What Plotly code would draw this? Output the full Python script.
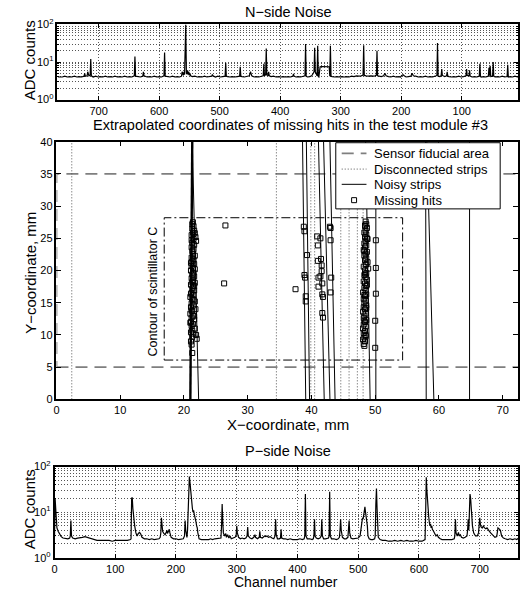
import plotly.graph_objects as go

# ---------------- N-side noise (channel, ADC counts) ----------------
N_CH = [0, 4, 8, 12, 16, 20, 23, 24, 25, 29, 33, 37, 41, 45, 47, 48, 49, 52, 53, 54, 55, 56, 60, 64, 68, 69, 70, 71,
        75, 79, 83, 86, 87, 88, 91, 92, 93, 97, 101, 105, 109, 113, 117, 121, 123, 124, 125, 128, 132, 133, 134,
        136, 139, 140, 141, 144, 148, 152, 156, 160, 164, 168, 172, 176, 180, 182, 184, 188, 192, 195, 197, 199,
        201, 205, 209, 213, 217, 221, 225, 227, 229, 233, 237, 239, 240, 241, 243, 246, 250, 254, 258, 261, 262,
        263, 266, 270, 274, 278, 282, 286, 290, 294, 298, 302, 306, 310, 314, 316, 317, 318, 319, 323, 327, 331,
        334, 335, 336, 337, 338, 339, 340, 342, 343, 344, 346, 348, 351, 355, 357, 358, 359, 362, 366, 370, 374,
        377, 378, 379, 383, 387, 391, 395, 399, 403, 407, 411, 415, 418, 419, 420, 422, 423, 424, 426, 427, 428,
        431, 435, 439, 443, 447, 449, 451, 455, 459, 463, 465, 466, 467, 471, 475, 479, 483, 487, 489, 490, 491,
        495, 499, 503, 507, 511, 512, 513, 517, 521, 525, 529, 533, 537, 541, 545, 548, 549, 550, 551, 552, 553,
        554, 555, 556, 557, 558, 559, 560, 562, 563, 566, 570, 574, 578, 582, 586, 590, 591, 592, 596, 600, 604,
        608, 612, 616, 620, 624, 625, 626, 627, 631, 635, 639, 640, 641, 645, 649, 653, 657, 661, 665, 669, 673,
        677, 681, 685, 689, 693, 697, 701, 705, 709, 712, 713, 714, 716, 718, 719, 722, 723, 724, 728, 732, 736,
        740, 744, 748, 752, 756, 760, 764, 767]
N_ADC = [4.4, 4.2, 4.0, 4.2, 4.0, 4.1, 4.0, 8.5, 4.1, 4.0, 4.2, 4.0, 4.1, 4.0, 4.2, 10.0, 4.2, 4.1, 8.0, 4.3, 7.0,
         4.2, 4.0, 4.1, 4.0, 4.2, 9.0, 4.2, 4.0, 4.1, 4.0, 4.2, 6.0, 4.3, 4.4, 6.5, 4.3, 4.1, 4.0, 4.2, 4.0, 4.1,
         4.0, 4.1, 4.2, 5.5, 4.3, 4.1, 4.4, 6.5, 4.3, 4.1, 4.2, 32.0, 4.4, 4.2, 4.0, 4.1, 4.0, 4.2, 4.0, 4.1, 4.0,
         4.2, 4.3, 5.0, 4.2, 4.1, 4.0, 4.3, 4.6, 4.4, 4.0, 4.1, 4.0, 4.2, 4.0, 4.1, 4.3, 5.0, 4.3, 4.1, 4.2, 4.3,
         20.0, 4.5, 4.3, 4.2, 4.3, 4.2, 4.3, 4.4, 28.0, 4.5, 4.3, 4.2, 4.3, 4.1, 4.2, 4.0, 4.1, 4.0, 4.1, 4.0, 4.1,
         4.0, 4.1, 4.2, 27.0, 4.2, 7.5, 7.6, 7.4, 7.6, 7.5, 4.3, 4.0, 4.1, 27.0, 4.3, 4.6, 5.5, 24.0, 5.5, 4.8, 4.3,
         4.1, 4.0, 4.2, 30.0, 4.3, 4.1, 4.0, 4.1, 4.0, 4.2, 4.8, 4.2, 4.0, 4.1, 4.0, 4.1, 4.0, 4.1, 4.0, 4.2, 4.1,
         4.3, 5.5, 4.4, 4.5, 23.0, 4.6, 4.3, 9.0, 4.3, 4.1, 4.0, 4.1, 4.0, 4.3, 5.5, 4.3, 4.1, 4.0, 4.1, 4.2, 7.5,
         4.2, 4.1, 4.0, 4.1, 4.0, 4.1, 4.2, 9.5, 4.2, 4.1, 4.0, 4.2, 4.0, 4.3, 4.7, 4.2, 4.1, 4.0, 4.2, 4.0, 4.1,
         4.0, 4.2, 4.1, 4.3, 5.0, 4.4, 5.5, 4.6, 6.0, 4.8, 5.0, 100.0, 5.0, 4.6, 5.5, 4.4, 5.5, 4.2, 4.0, 4.1, 4.0,
         4.2, 4.0, 4.1, 4.2, 18.0, 4.3, 4.0, 4.1, 4.0, 4.2, 4.0, 4.1, 4.0, 4.2, 4.3, 5.5, 4.2, 4.0, 4.1, 4.2, 14.0,
         4.3, 4.0, 4.1, 4.0, 4.2, 4.0, 4.1, 4.0, 4.2, 4.0, 4.1, 4.0, 4.2, 4.0, 4.1, 4.0, 4.2, 4.0, 4.3, 12.0, 4.5,
         4.3, 5.5, 4.3, 4.2, 5.0, 4.2, 4.0, 4.1, 4.0, 4.2, 4.0, 4.1, 4.0, 4.2, 4.0, 4.1, 4.0]

# ---------------- P-side noise (channel, ADC counts) ----------------
P_CH = [0, 1, 2, 3, 4, 6, 8, 11, 14, 18, 22, 25, 26, 27, 28, 30, 34, 38, 42, 46, 50, 54, 58, 62, 66, 70, 75, 80,
        85, 90, 95, 100, 105, 110, 115, 120, 125, 126, 127, 128, 129, 130, 132, 134, 136, 138, 140, 142, 144,
        148, 152, 156, 160, 164, 168, 172, 174, 175, 176, 177, 178, 180, 182, 184, 185, 186, 188, 189, 190, 192,
        196, 200, 204, 208, 212, 214, 215, 216, 217, 218, 219, 220, 221, 222, 223, 224, 225, 226, 227, 228, 229,
        230, 231, 232, 233, 234, 235, 236, 237, 238, 242, 246, 250, 254, 257, 260, 264, 268, 272, 274, 275, 276,
        277, 278, 280, 282, 283, 285, 287, 289, 291, 294, 297, 299, 300, 301, 303, 306, 309, 312, 315, 317, 318,
        319, 322, 325, 328, 330, 331, 334, 337, 338, 339, 342, 344, 346, 348, 350, 352, 355, 358, 361, 363, 364,
        365, 367, 370, 372, 373, 374, 377, 380, 384, 388, 392, 396, 400, 404, 408, 411, 412, 413, 414, 416, 420,
        424, 426, 427, 428, 429, 431, 434, 437, 439, 440, 441, 443, 446, 449, 451, 452, 453, 454, 456, 460, 464,
        467, 469, 470, 471, 472, 474, 477, 480, 483, 484, 485, 486, 488, 491, 494, 497, 500, 503, 505, 506, 507,
        508, 509, 510, 511, 512, 513, 514, 515, 516, 518, 521, 524, 527, 528, 529, 530, 531, 532, 533, 536, 540,
        545, 550, 555, 560, 565, 570, 575, 580, 585, 590, 595, 600, 605, 608, 610, 611, 612, 613, 614, 615, 616,
        617, 618, 619, 620, 621, 622, 624, 626, 628, 630, 632, 635, 638, 642, 646, 650, 654, 658, 659, 660, 661,
        663, 665, 666, 668, 670, 673, 676, 679, 680, 681, 682, 683, 684, 685, 686, 687, 688, 690, 693, 696, 698,
        699, 700, 701, 702, 704, 706, 708, 710, 712, 714, 716, 718, 720, 722, 725, 728, 729, 730, 732, 734, 736,
        739, 742, 746, 750, 754, 758, 761, 764, 767]
P_ADC = [2.8, 20.0, 12.0, 6.0, 4.5, 3.8, 3.3, 2.9, 2.7, 2.6, 2.6, 2.7, 3.0, 6.5, 3.0, 2.7, 2.6, 2.7, 2.7, 2.8, 2.9,
         2.8, 2.7, 2.6, 2.5, 2.4, 2.4, 2.4, 2.4, 2.4, 2.3, 2.4, 2.4, 2.4, 2.4, 2.4, 2.5, 2.6, 20.0, 21.0, 12.0,
         8.0, 5.0, 3.5, 3.0, 3.4, 3.6, 3.3, 2.8, 2.6, 2.6, 2.5, 2.6, 2.5, 2.6, 2.6, 2.8, 3.5, 7.5, 5.0, 3.8, 3.4,
         3.2, 3.6, 4.0, 3.4, 3.8, 4.2, 3.5, 2.8, 2.6, 2.6, 2.5, 2.6, 2.6, 3.0, 6.5, 4.0, 3.0, 2.8, 4.0, 9.0, 25.0,
         60.0, 45.0, 30.0, 20.0, 14.0, 12.0, 10.0, 11.0, 9.0, 8.0, 7.5, 6.0, 5.0, 4.5, 3.5, 3.0, 2.6, 2.5, 2.5,
         2.5, 2.5, 2.6, 2.5, 2.6, 2.6, 2.6, 2.7, 5.0, 15.0, 6.0, 3.5, 3.0, 3.4, 2.8, 3.2, 2.7, 3.0, 2.6, 2.7, 2.8,
         3.0, 5.0, 3.5, 2.8, 2.6, 2.7, 2.6, 2.7, 3.0, 4.7, 3.0, 2.7, 2.6, 2.8, 3.2, 2.8, 2.6, 2.8, 3.8, 2.8, 2.7,
         2.9, 3.0, 2.9, 3.0, 2.8, 2.9, 2.7, 2.6, 3.0, 7.0, 3.2, 2.6, 2.6, 2.7, 4.2, 2.7, 2.6, 2.6, 2.5, 2.6, 2.5,
         2.5, 2.5, 2.6, 2.5, 2.6, 3.0, 25.0, 3.0, 2.6, 2.6, 2.5, 2.6, 3.0, 7.0, 3.0, 2.7, 2.6, 2.7, 3.0, 7.0, 3.0,
         2.6, 2.6, 2.6, 2.7, 3.0, 28.0, 3.0, 2.6, 2.6, 2.5, 2.6, 2.8, 4.0, 7.0, 4.0, 2.8, 2.6, 2.6, 2.8, 4.5, 6.5,
         3.5, 2.7, 2.6, 2.6, 2.6, 2.7, 3.0, 4.5, 7.0, 7.5, 7.0, 9.0, 12.0, 13.0, 10.0, 8.0, 7.0, 5.0, 3.0, 2.6,
         2.5, 2.5, 2.6, 3.0, 15.0, 33.0, 12.0, 4.0, 2.8, 2.5, 2.4, 2.4, 2.3, 2.3, 2.4, 2.3, 2.4, 2.3, 2.4, 2.3,
         2.3, 2.4, 2.3, 2.3, 2.4, 2.5, 10.0, 58.0, 30.0, 15.0, 12.0, 8.0, 6.0, 5.0, 5.5, 4.5, 5.0, 4.2, 3.8, 3.2,
         3.0, 3.2, 2.8, 2.6, 2.5, 2.5, 2.5, 2.5, 2.5, 2.6, 3.0, 7.0, 3.5, 3.0, 3.6, 3.0, 3.2, 2.8, 2.7, 2.8, 3.0,
         4.0, 7.0, 4.0, 10.0, 25.0, 20.0, 15.0, 8.0, 5.0, 3.5, 3.0, 3.0, 3.5, 5.0, 7.5, 5.5, 4.8, 4.5, 5.0, 4.5,
         4.3, 4.5, 4.0, 3.8, 3.5, 3.3, 3.0, 2.8, 2.9, 3.5, 4.5, 4.3, 4.0, 3.0, 2.7, 2.6, 2.5, 2.6, 2.5, 2.6, 2.5,
         2.7, 3.0]

# ---------------- Module map (mm) ----------------
FIDUCIAL_X = [0.0, 73.0]
FIDUCIAL_Y = [5.0, 35.0]
STRIP_Y = [0.0, 40.0]                     # strips drawn over the full sensor height
DISCONNECTED_X = [2.4, 34.5, 39.9, 40.5, 44.6, 45.9, 47.2, 48.1]
NOISY_X_BOTTOM = [22.3, 39.1, 39.7, 42.0, 42.9, 43.7, 49.2, 50.1, 58.0, 59.2, 64.8]
NOISY_X_TOP = [21.3, 38.6, 39.2, 41.1, 41.9, 42.9, 48.5, 50.1, 57.9, 58.1, 64.8]
HOT_STRIP_X = [21.0, 21.3]                # bottom, top (very noisy, drawn heavy)
SCINT_X = [16.9, 54.3]
SCINT_Y = [6.1, 28.2]

HITS_A_X = [21.4, 21.3, 21.5, 21.3, 21.6, 21.4, 21.2, 21.8, 21.5, 21.9, 21.3, 21.6, 21.2, 21.5, 21.3, 21.4, 21.7,
            21.2, 21.5, 21.3, 21.6, 21.2, 21.4, 21.1, 21.5, 21.3, 21.6, 21.2, 21.4, 21.7, 21.1, 21.4, 21.3, 21.6,
            21.2, 21.5, 21.0, 21.3, 21.7, 21.2, 21.5, 21.1, 21.8, 21.3, 21.0, 21.4, 21.2, 21.6, 21.1, 21.4, 21.2,
            21.7, 21.3, 21.1, 21.9, 21.3, 22.0, 21.2, 21.3, 21.7, 21.2, 21.4, 21.1, 21.7, 21.3, 21.6, 21.1, 21.5,
            21.2, 21.6, 21.0, 21.4, 21.1]
HITS_A_Y = [27.5, 27.2, 26.9, 26.5, 26.2, 25.9, 25.5, 25.2, 24.9, 24.6, 24.3, 24.0, 23.6, 23.3, 23.0, 22.6, 22.3,
            22.0, 21.7, 21.4, 21.0, 20.7, 20.4, 20.0, 19.7, 19.4, 19.1, 18.8, 18.5, 18.1, 17.8, 17.5, 17.2, 16.9,
            16.5, 16.2, 15.9, 15.6, 15.2, 14.9, 14.6, 14.3, 14.0, 13.7, 13.3, 13.0, 12.7, 12.4, 12.0, 11.7, 11.4,
            11.0, 10.7, 10.4, 10.0, 9.7, 9.4, 8.5, 7.2, 25.8, 24.7, 22.2, 21.2, 20.2, 18.2, 17.6, 16.4, 15.5,
            13.8, 12.9, 11.9, 10.2, 9.0]
HITS_B_X = [48.5, 48.6, 48.4, 48.7, 48.5, 48.3, 48.6, 48.4, 48.8, 48.5, 48.3, 48.6, 48.4, 48.2, 48.7, 48.5, 48.3,
            48.6, 48.4, 48.8, 48.5, 48.2, 48.9, 48.4, 48.6, 48.3, 48.5, 48.7, 48.2, 48.4, 48.6, 48.3, 48.5, 48.1,
            48.6, 48.4, 48.2, 48.5, 48.3, 48.6, 48.2, 48.4, 48.1, 48.5, 48.3, 48.2, 48.6, 48.4, 48.2, 48.5, 48.1,
            48.4, 48.2, 48.5, 48.3, 48.1, 48.4, 48.2, 48.3, 48.4, 48.7, 48.3, 48.6, 48.4, 48.7, 48.3, 48.6, 48.3,
            48.5]
HITS_B_Y = [27.6, 27.2, 26.9, 26.6, 26.2, 25.9, 25.6, 25.2, 24.9, 24.6, 24.2, 23.9, 23.6, 23.2, 22.9, 22.6, 22.3,
            21.9, 21.6, 21.3, 20.9, 20.6, 20.3, 20.0, 19.6, 19.3, 19.0, 18.6, 18.3, 18.0, 17.6, 17.3, 17.0, 16.6,
            16.3, 16.0, 15.6, 15.3, 15.0, 14.6, 14.3, 14.0, 13.6, 13.3, 13.0, 12.6, 12.3, 12.0, 11.6, 11.3, 11.0,
            10.6, 10.3, 10.0, 9.6, 9.3, 9.0, 8.6, 8.3, 27.0, 25.0, 23.0, 21.0, 19.5, 17.8, 16.2, 14.2, 12.2, 9.8]
HITS_C_X = [26.5, 26.3, 38.8, 38.9, 39.3, 38.9, 39.0, 39.1, 39.1, 37.5, 40.9, 41.4, 41.0, 41.0, 41.5, 41.1, 41.6,
            41.6, 41.4, 41.7, 41.1, 41.7, 41.8, 41.7, 41.8, 42.9, 43.0, 43.0, 43.1, 43.0, 50.1, 50.1, 50.1, 50.0,
            50.0]
HITS_C_Y = [27.0, 18.0, 26.8, 26.1, 22.4, 19.3, 18.9, 16.0, 15.2, 17.1, 25.3, 25.0, 23.9, 21.5, 21.8, 18.9, 20.8,
            19.9, 19.1, 18.0, 17.5, 16.3, 15.9, 13.4, 12.7, 26.8, 26.6, 24.7, 18.9, 16.6, 24.7, 20.4, 16.4, 12.2,
            8.0]

LEGEND_LABELS = ["Sensor fiducial area", "Disconnected strips", "Noisy strips", "Missing hits"]

W, H = 520, 592
FONT = "Liberation Sans, Arial, Helvetica, sans-serif"

FID_STYLE = dict(color="#7f7f7f", width=1.8, dash="12px,7px")
DISC_STYLE = dict(color="#555555", width=1, dash="1px,2px")
NOISY_STYLE = dict(color="black", width=1)

# vertical calibration (page is shown slightly compressed vertically)
Y_OFF, Y_SCALE = 7.6, 0.974


def px_x(p):
    return p / W


def px_y(p):
    return 1 - ((p - Y_OFF) / Y_SCALE) / H


fig = go.Figure()

# noise traces
fig.add_trace(go.Scatter(x=N_CH, y=N_ADC, mode="lines", line=dict(color="black", width=1.2),
                         xaxis="x", yaxis="y", showlegend=False, hoverinfo="skip"))
fig.add_trace(go.Scatter(x=P_CH, y=P_ADC, mode="lines", line=dict(color="black", width=1.2),
                         xaxis="x3", yaxis="y3", showlegend=False, hoverinfo="skip"))

# fiducial area (rectangle)
fx = [FIDUCIAL_X[0], FIDUCIAL_X[1], FIDUCIAL_X[1], FIDUCIAL_X[0], FIDUCIAL_X[0]]
fy = [FIDUCIAL_Y[0], FIDUCIAL_Y[0], FIDUCIAL_Y[1], FIDUCIAL_Y[1], FIDUCIAL_Y[0]]
fig.add_trace(go.Scatter(x=fx, y=fy, mode="lines", name=LEGEND_LABELS[0], line=FID_STYLE,
                         xaxis="x2", yaxis="y2", hoverinfo="skip", showlegend=False))

# disconnected strips
dx, dy = [], []
for xv in DISCONNECTED_X:
    dx += [xv, xv, None]
    dy += [STRIP_Y[0], STRIP_Y[1], None]
fig.add_trace(go.Scatter(x=dx, y=dy, mode="lines", name=LEGEND_LABELS[1], line=DISC_STYLE,
                         xaxis="x2", yaxis="y2", hoverinfo="skip", showlegend=False))

# scintillator contour
sx = [SCINT_X[0], SCINT_X[1], SCINT_X[1], SCINT_X[0], SCINT_X[0]]
sy = [SCINT_Y[0], SCINT_Y[0], SCINT_Y[1], SCINT_Y[1], SCINT_Y[0]]
fig.add_trace(go.Scatter(x=sx, y=sy, mode="lines", showlegend=False,
                         line=dict(color="black", width=1, dash="9px,3px,2px,3px"),
                         xaxis="x2", yaxis="y2", hoverinfo="skip"))

# noisy strips
nx, ny = [], []
for xb, xt in zip(NOISY_X_BOTTOM, NOISY_X_TOP):
    nx += [xb, xt, None]
    ny += [STRIP_Y[0], STRIP_Y[1], None]
fig.add_trace(go.Scatter(x=nx, y=ny, mode="lines", name=LEGEND_LABELS[2], line=NOISY_STYLE,
                         xaxis="x2", yaxis="y2", hoverinfo="skip", showlegend=False))
fig.add_trace(go.Scatter(x=HOT_STRIP_X, y=STRIP_Y, mode="lines", showlegend=False,
                         line=dict(color="black", width=2.4),
                         xaxis="x2", yaxis="y2", hoverinfo="skip"))

# missing hits
fig.add_trace(go.Scatter(x=HITS_A_X + HITS_B_X + HITS_C_X, y=HITS_A_Y + HITS_B_Y + HITS_C_Y,
                         mode="markers", name=LEGEND_LABELS[3], showlegend=False,
                         marker=dict(symbol="square-open", size=5, color="black", line=dict(width=1)),
                         xaxis="x2", yaxis="y2", hoverinfo="skip"))

grid = dict(showgrid=True, gridcolor="#555555", gridwidth=1, griddash="1px,2px")
axis_common = dict(showline=True, linecolor="black", linewidth=1.5, mirror="ticks", ticks="inside",
                   tickcolor="black", zeroline=False, tickfont=dict(size=11, family=FONT, color="black"))
log_y = dict(type="log", range=[0, 2], tickvals=[1, 10, 100],
             ticktext=["10<sup>0</sup>", "10<sup>1</sup>", "10<sup>2</sup>"], ticklen=4,
             minor=dict(tickmode="array", tickvals=[2, 3, 4, 5, 6, 7, 8, 9, 20, 30, 40, 50, 60, 70, 80, 90],
                        ticks="inside", ticklen=2, tickcolor="black", showgrid=True,
                        gridcolor="#555555", gridwidth=1, griddash="1px,2px"),
             **grid, **axis_common)

fig.update_layout(
    width=W, height=H, margin=dict(l=0, r=0, t=0, b=0),
    paper_bgcolor="white", plot_bgcolor="white",
    font=dict(family=FONT, color="black"),
    showlegend=False,
    xaxis=dict(domain=[px_x(55), 1], anchor="y", range=[768, 7], tickvals=[100, 200, 300, 400, 500, 600, 700],
               ticklen=4, **grid, **axis_common),
    yaxis=dict(domain=[px_y(99), px_y(24)], anchor="x", **log_y),
    xaxis2=dict(domain=[px_x(54), 1], anchor="y2", range=[0, 72.4], tickvals=[0, 10, 20, 30, 40, 50, 60, 70],
                ticklen=5, showgrid=False, **axis_common),
    yaxis2=dict(domain=[px_y(398), px_y(141)], anchor="x2", range=[0, 40],
                tickvals=[0, 5, 10, 15, 20, 25, 30, 35, 40], ticklen=5, showgrid=False, **axis_common),
    xaxis3=dict(domain=[px_x(52), 1], anchor="y3", range=[0, 763], tickvals=[0, 100, 200, 300, 400, 500, 600, 700],
                ticklen=4, **grid, **axis_common),
    yaxis3=dict(domain=[px_y(556), px_y(465)], anchor="x3", **log_y),
)

ann = []


def label(text, x, y, size=14.5, angle=0, xanchor="center"):
    ann.append(dict(text=text, x=x, y=y, xref="paper", yref="paper", showarrow=False,
                    textangle=angle, font=dict(size=size, family=FONT, color="black"),
                    xanchor=xanchor, yanchor="middle"))


label("N\u2212side Noise", px_x(288), px_y(12))
label("ADC counts", px_x(27), px_y(60), 15, -90)
label("Extrapolated coordinates of missing hits in the test module #3", px_x(290), px_y(124))
label("Y\u2212coordinate, mm", px_x(27), px_y(272), 15, -90)
label("X\u2212coordinate, mm", px_x(288), px_y(423), 15)
label("P\u2212side Noise", px_x(288), px_y(450))
label("ADC counts", px_x(27), px_y(508), 15, -90)
label("Channel number", px_x(286), px_y(580.5), 14)
ann.append(dict(text="Contour of scintillator C", x=15.2, y=16.8, xref="x2", yref="y2", showarrow=False,
                textangle=-90, font=dict(size=12.5, family=FONT, color="black"),
                xanchor="center", yanchor="middle"))

# ----- legend box drawn by hand (matches the compact MATLAB legend) -----
shapes = [dict(type="rect", xref="paper", yref="paper", x0=px_x(336), x1=px_x(502), y0=px_y(208), y1=px_y(142),
               fillcolor="white", line=dict(color="black", width=1), layer="above")]
row_y = [152.7, 168.3, 183.5, 199.3]
styles = [FID_STYLE, DISC_STYLE, NOISY_STYLE]
for ry, st in zip(row_y[:3], styles):
    shapes.append(dict(type="line", xref="paper", yref="paper", x0=px_x(342), x1=px_x(367),
                       y0=px_y(ry), y1=px_y(ry), line=st, layer="above"))
shapes.append(dict(type="rect", xref="paper", yref="paper", x0=px_x(352), x1=px_x(357),
                   y0=px_y(row_y[3] + 2.5), y1=px_y(row_y[3] - 2.5),
                   line=dict(color="black", width=1), fillcolor="white", layer="above"))
for ry, txt in zip(row_y, LEGEND_LABELS):
    label(txt, px_x(373), px_y(ry), 13, 0, "left")

fig.update_layout(annotations=ann, shapes=shapes)

fig.write_html("out.html", config={"displayModeBar": False},
               post_script="document.body.style.margin='0';document.body.style.overflow='hidden';")
